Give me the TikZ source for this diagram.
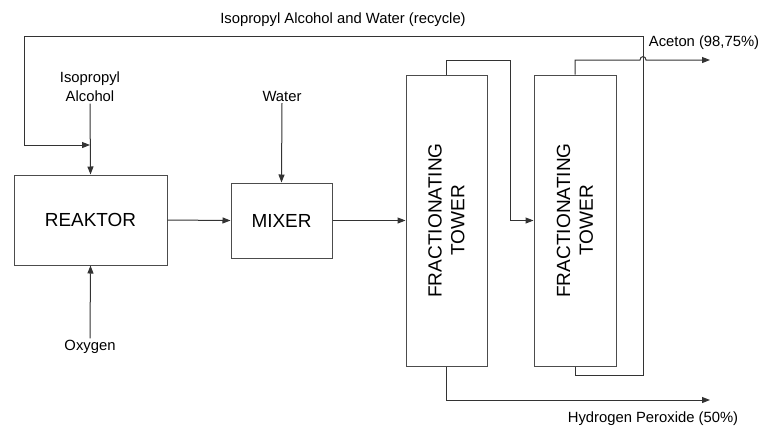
\documentclass[tikz,border=0pt]{standalone}
\usepackage{fontspec}
\setmainfont{Liberation Sans}
\usetikzlibrary{arrows.meta}

\tikzset{every picture/.style={line width=0.75pt}}
\tikzset{
  unit/.style={draw=black!70, inner sep=0pt, font=\fontsize{14.2}{17}\selectfont},
  lbl/.style={inner sep=1pt, align=center, font=\fontsize{11.1}{14.2}\selectfont},
  flow/.style={draw=black!80, -{Triangle[length=6pt,width=4.5pt]}},
  pipe/.style={draw=black!80}
}

\begin{document}
\begin{tikzpicture}[x=0.75pt,y=0.75pt,yscale=-1,xscale=1]
	\path[use as bounding box] (0,0) rectangle (761,426);
	
	%Shape: Rectangle [reaktor]
	\node (reaktor) [unit, minimum width=114.75pt, minimum height=67.5pt] at (90.5,220) {REAKTOR};
	%Shape: Rectangle [mixer]
	\node (mixer) [unit, minimum width=75.75pt, minimum height=56.25pt] at (281.5,220.5) {MIXER};
	%Shape: Rectangle [tower 1]
	\node (towerA) [unit, minimum width=60.75pt, minimum height=218.25pt] at (446.5,220.5) {};
	%Shape: Rectangle [tower 2]
	\node (towerB) [unit, minimum width=61.5pt, minimum height=218.25pt] at (575,220.5) {};
	
	% Text Node
	\node (towerAtext) [font=\fontsize{14.3}{17}\selectfont, align=center, rotate=90] at (towerA.center) {FRACTIONATING\\TOWER};
	% Text Node
	\node (towerBtext) [font=\fontsize{14.3}{17}\selectfont, align=center, rotate=90] at (towerB.center) {FRACTIONATING\\TOWER};
	% Text Node
	\node (iso) [lbl] at (90,87) {Isopropyl\\Alcohol};
	% Text Node
	\node (water) [lbl] at (282,96) {Water};
	% Text Node
	\node (oxygen) [lbl] at (90,347) {Oxygen};
	% Text Node
	\node (recycle) [lbl] at (343,20) {Isopropyl Alcohol and Water (recycle)};
	% Text Node
	\node (aceton) [lbl] at (704,43) {Aceton (98,75\%)};
	% Text Node
	\node (peroxide) [lbl] at (653,419) {Hydrogen Peroxide (50\%)};
	
	%coordinates for bends and free ends
	\coordinate (bendA) at (510,60);
	\coordinate (acetonEnd) at (710,60);
	\coordinate (peroxideEnd) at (710,400);
	\coordinate (recBottom) at (643,375);
	\coordinate (recTop) at (24,36);
	\coordinate (recIn) at (24,145);
	
	%Straight Lines [feeds]
	\draw [flow] (iso.south) -- (reaktor.north);
	\draw [flow] (water.south) -- (mixer.north);
	\draw [flow] (oxygen.north) -- (reaktor.south);
	%Straight Lines [main line]
	\draw [flow] (reaktor.east) -- (mixer.west);
	\draw [flow] (mixer.east) -- (mixer.east -| towerA.west);
	\draw [flow] (towerA.north) |- (bendA) |- (towerB.west);
	%Straight Lines [top product, hops over recycle]
	\draw [flow] (towerB.north) |- (640,60) .. controls (640,55.5) and (646,55.5) .. (646,60) -- (acetonEnd);
	%Straight Lines [bottom product]
	\draw [flow] (towerA.south) |- (peroxideEnd);
	%Straight Lines [recycle]
	\draw [flow] (towerB.south) |- (recBottom) |- (recTop) -- (recIn) -- (recIn -| iso.south);
	
\end{tikzpicture}
\end{document}
